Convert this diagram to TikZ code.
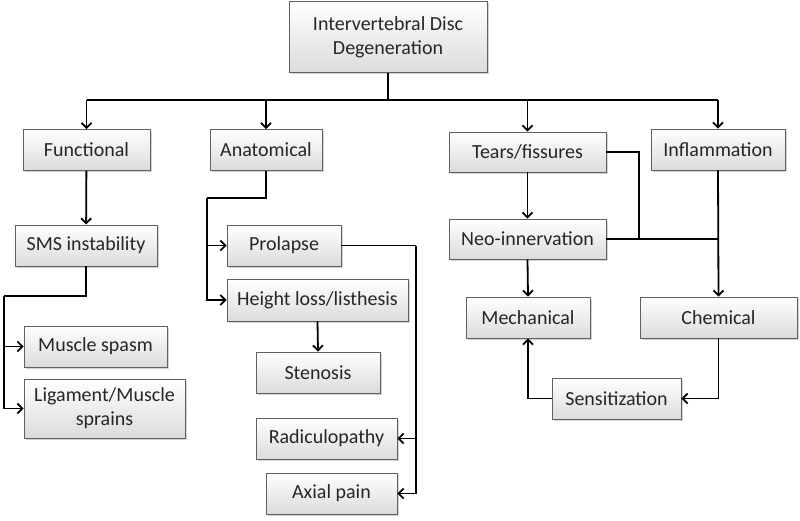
\documentclass[tikz,border=0pt]{standalone}
\usepackage{fontspec}
\setmainfont{Carlito}
\usetikzlibrary{arrows.meta,shadows}
\tikzset{
  box/.style={draw=gray!75!black, line width=0.8pt, top color=white, bottom color=gray!28,
    drop shadow={shadow xshift=1.5pt, shadow yshift=-1.5pt, opacity=0.35},
    minimum height=41pt, inner sep=0pt, align=center, text=black!85,
    font=\fontsize{20}{24}\selectfont},
  link/.style={line width=1.8pt},
}
\begin{document}
\begin{tikzpicture}[x=1pt, y=-1pt, >={Straight Barb[length=5pt,width=10pt]}]
		\useasboundingbox (0,0) rectangle (800,520);
		% top
		\node [box, minimum width=198pt, minimum height=71pt] (idd) at (388,37) {Intervertebral Disc\\Degeneration};
		% level 1
		\node [box, minimum width=127pt] (func) at (86.5,150) {Functional};
		\node [box, minimum width=112pt] (anat) at (266,150) {Anatomical};
		\node [box, minimum width=157pt, minimum height=40pt] (tears) at (527.5,152) {Tears/fissures};
		\node [box, minimum width=134pt] (infl) at (718,149.5) {Inflammation};
		% functional branch
		\node [box, minimum width=142pt] (sms) at (86,245.5) {SMS instability};
		\node [box, minimum width=143pt] (spasm) at (95.5,346.5) {Muscle spasm};
		\node [box, minimum width=161pt, minimum height=59pt] (lig) at (104.5,408.5) {Ligament/Muscle\\sprains};
		% anatomical branch
		\node [box, minimum width=114pt] (prol) at (284,245.5) {Prolapse};
		\node [box, minimum width=181pt, minimum height=42pt] (height) at (317.5,300) {Height loss/listhesis};
		\node [box, minimum width=124pt] (sten) at (318,372.5) {Stenosis};
		\node [box, minimum width=141pt] (radic) at (326.5,438.5) {Radiculopathy};
		\node [box, minimum width=131pt] (axial) at (331.5,493.5) {Axial pain};
		% pain branch
		\node [box, minimum width=157pt, minimum height=40pt] (neo) at (527.5,239) {Neo-innervation};
		\node [box, minimum width=124pt] (mech) at (528,317.5) {Mechanical};
		\node [box, minimum width=157pt] (chem) at (718.5,317.5) {Chemical};
		\node [box, minimum width=129pt] (sens) at (616.5,398.5) {Sensitization};
		% bus
		\coordinate (bus) at (88,100);
		\draw [link] (idd.south) -- (idd.south |- bus);
		\draw [link] (func.north |- bus) -- (infl.north |- bus);
		\foreach \n in {func,anat,tears,infl}
			\draw [link, ->] (\n.north |- bus) -- (\n.north);
		% functional
		\coordinate (fl) at (4,296);
		\draw [link, ->] (func) -- (sms);
		\draw [link] (sms.south) -- (sms.south |- fl) -- (fl);
		\draw [link, ->] (fl) |- (spasm.west);
		\draw [link, ->] (fl) |- (lig.west);
		% anatomical
		\coordinate (al) at (207,198);
		\draw [link] (anat.south) -- (anat.south |- al) -- (al);
		\draw [link, ->] (al) |- (prol.west);
		\draw [link, ->] (al) |- (height.west);
		\draw [link, ->] (height.south) -- (sten.north);
		\coordinate (pr) at (416,245.5);
		\draw [link] (prol.east) -- (pr);
		\draw [link, ->] (pr) |- (radic.east);
		\draw [link, ->] (pr) |- (axial.east);
		% tears / inflammation
		\coordinate (tj) at (639,239);
		\draw [link, ->] (tears) -- (neo);
		\draw [link] (tears.east) -| (tj);
		\draw [link] (neo.east) -- (neo.east -| infl.south);
		\draw [link, ->] (infl.south) -- (chem.north);
		\draw [link, ->] (neo.south) -- (mech.north);
		\draw [link, ->] (chem.south) |- (sens.east);
		\draw [link, ->] (sens.west) -| (mech.south);
	\end{tikzpicture}
\end{document}
